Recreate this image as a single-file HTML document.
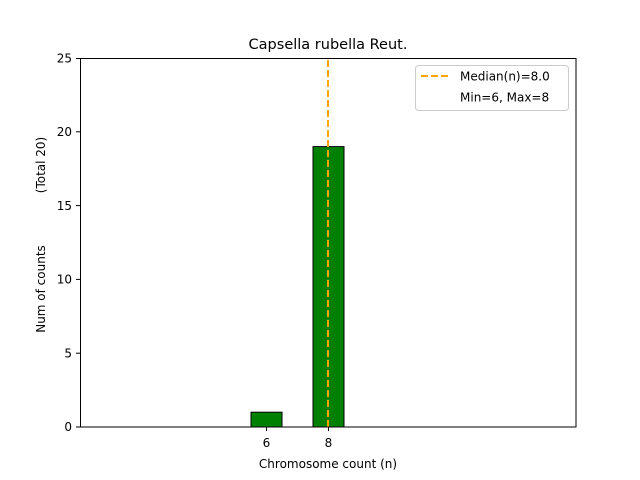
<!DOCTYPE html>
<html><head><meta charset="utf-8"><style>html,body{margin:0;padding:0;background:#fff}svg{display:block}</style></head>
<body>
<svg width="640" height="480" xmlns="http://www.w3.org/2000/svg" font-family="'DejaVu Sans','Liberation Sans',sans-serif">
<rect width="640" height="480" fill="#fff"/>
<text x="328" y="49" font-size="14.5" text-anchor="middle" fill="#000">Capsella rubella Reut.</text>
<!-- bars -->
<rect x="251" y="412.2" width="31" height="14.8" fill="#008000" stroke="#000" stroke-width="1"/>
<rect x="313" y="146.6" width="31" height="280.4" fill="#008000" stroke="#000" stroke-width="1"/>
<line x1="80" y1="427" x2="436" y2="427" stroke="#000" stroke-width="1"/>
<!-- median -->
<line x1="328" y1="427" x2="328" y2="58" stroke="#ffa500" stroke-width="2" stroke-dasharray="7,3"/>
<!-- axes -->
<rect x="80.5" y="58.5" width="495.5" height="368.5" fill="none" stroke="#000" stroke-width="1"/>
<g stroke="#000" stroke-width="1">
<line x1="76" y1="427" x2="80" y2="427"/><line x1="76" y1="353.2" x2="80" y2="353.2"/>
<line x1="76" y1="279.4" x2="80" y2="279.4"/><line x1="76" y1="205.6" x2="80" y2="205.6"/>
<line x1="76" y1="131.8" x2="80" y2="131.8"/><line x1="76" y1="58.5" x2="80" y2="58.5"/>
<line x1="266.5" y1="427" x2="266.5" y2="431"/><line x1="328.5" y1="427" x2="328.5" y2="431"/>
</g>
<g font-size="12" fill="#000" text-anchor="end">
<text x="72" y="431">0</text><text x="72" y="357.5">5</text><text x="72" y="283.5">10</text>
<text x="72" y="210">15</text><text x="72" y="136">20</text><text x="72" y="62.5">25</text>
</g>
<g font-size="12" fill="#000" text-anchor="middle">
<text x="266.5" y="447">6</text><text x="328.5" y="447">8</text>
<text x="328" y="468">Chromosome count (n)</text>
</g>
<text transform="translate(45,289) rotate(-90)" font-size="12" text-anchor="middle">Num of counts</text>
<text transform="translate(45,165) rotate(-90)" font-size="12" text-anchor="middle">(Total 20)</text>
<!-- legend -->
<rect x="415.5" y="65.5" width="153" height="45" rx="3" fill="#fff" stroke="#ccc" stroke-width="1"/>
<line x1="421" y1="76" x2="449" y2="76" stroke="#ffa500" stroke-width="2" stroke-dasharray="7,3"/>
<text x="460" y="80.5" font-size="12">Median(n)=8.0</text>
<text x="460" y="101.5" font-size="12">Min=6, Max=8</text>
</svg>
</body></html>
